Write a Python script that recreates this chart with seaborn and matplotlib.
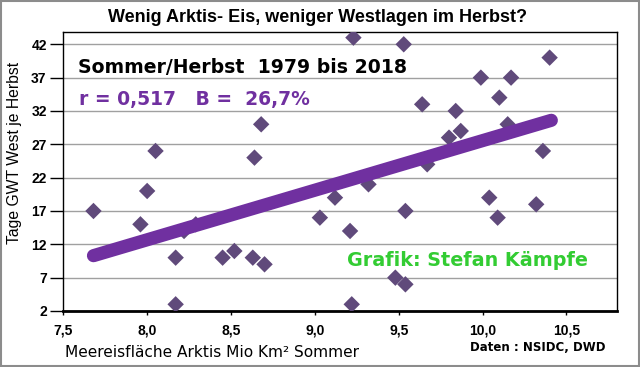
import matplotlib
matplotlib.use('Agg')
import matplotlib.pyplot as plt
import seaborn as sns
import pandas as pd
from matplotlib.patches import Rectangle

# Meereisfläche Sommer (Mio km²) und Tage GWT West je Herbst, 1979-2018
eis = [7.68, 8.00, 7.96, 8.17, 8.17, 8.22, 8.29, 8.45, 8.52, 8.63, 8.70,
       9.03, 9.12, 9.21, 9.22, 8.05, 8.68, 8.64, 9.23, 9.53, 10.40, 9.99,
       10.17, 10.10, 9.64, 9.84, 9.87, 9.80, 10.15, 10.36, 9.67, 9.32,
       10.04, 9.54, 10.32, 10.09, 9.48, 9.54]
west = [17, 20, 15, 10, 3, 14, 15, 10, 11, 10, 9,
        16, 19, 14, 3, 26, 30, 25, 43, 42, 40, 37,
        37, 34, 33, 32, 29, 28, 30, 26, 24, 21,
        19, 17, 18, 16, 7, 6]

trend_eis = [7.68, 10.41]
trend_west = [10.3, 30.6]

xticks = [7.5, 8.0, 8.5, 9.0, 9.5, 10.0, 10.5]
xtick_labels = ['7,5', '8,0', '8,5', '9,0', '9,5', '10,0', '10,5']
yticks = [2, 7, 12, 17, 22, 27, 32, 37, 42]

sns.set_theme(style='white')
plt.rcParams['font.family'] = ['Liberation Sans', 'DejaVu Sans']
plt.rcParams['text.color'] = 'black'

fig = plt.figure(figsize=(6.4, 3.67), dpi=100)
ax = fig.add_axes([0.0989, 0.1526, 0.8647, 0.7594])

df = pd.DataFrame({'eis': eis, 'west': west})
sns.scatterplot(data=df, x='eis', y='west', marker='D', s=70, color='#604A7B',
                edgecolor='none', ax=ax, zorder=3)
trend = pd.DataFrame({'eis': trend_eis, 'west': trend_west})
sns.lineplot(data=trend, x='eis', y='west', color='#7030A0', lw=9.5,
             solid_capstyle='round', ax=ax, zorder=4)

ax.set_xlim(7.5, 10.8)
ax.set_ylim(2, 43.8)
ax.set_xticks(xticks, xtick_labels)
ax.set_yticks(yticks)
ax.set_xlabel('')
ax.set_ylabel('')
ax.yaxis.grid(True, color='#A0A0A0', lw=1)
ax.set_axisbelow(True)
for side in ['top', 'right', 'left']:
    ax.spines[side].set_color('black')
    ax.spines[side].set_linewidth(1)
ax.spines['bottom'].set_color('black')
ax.spines['bottom'].set_linewidth(2)
ax.tick_params(axis='y', direction='out', length=9.5, width=1, color='black',
               labelcolor='black', pad=2.5, labelsize=10, left=True)
ax.tick_params(axis='x', direction='out', length=3, width=1, color='black',
               labelcolor='black', pad=6, labelsize=10, bottom=True)
for lbl in ax.get_xticklabels() + ax.get_yticklabels():
    lbl.set_fontweight('bold')

fig.text(317 / 640, 1 - 18 / 367, 'Wenig Arktis- Eis, weniger Westlagen im Herbst?',
         ha='center', va='center', fontsize=13, fontweight='bold')
fig.text(15 / 640, 1 - 153 / 367, 'Tage GWT West je Herbst', rotation=90,
         ha='center', va='center', fontsize=11.3)
fig.text(65 / 640, 1 - 352.7 / 367, 'Meereisfläche Arktis Mio Km² Sommer',
         ha='left', va='center', fontsize=11.1, family=['DejaVu Sans'])
fig.text(606 / 640, 1 - 347.7 / 367, 'Daten : NSIDC, DWD',
         ha='right', va='center', fontsize=8.5, fontweight='bold',
         family=['DejaVu Sans'])

fig.text(78 / 640, 1 - 67.3 / 367, 'Sommer/Herbst  1979 bis 2018',
         ha='left', va='center', fontsize=13.6, fontweight='bold',
         family=['DejaVu Sans'])
fig.text(79 / 640, 1 - 100 / 367, 'r = 0,517   B =  26,7%', color='#7030A0',
         ha='left', va='center', fontsize=13.5, fontweight='bold',
         family=['DejaVu Sans'])
fig.text(347 / 640, 1 - 260 / 367, 'Grafik: Stefan Kämpfe', color='#33CC33',
         ha='left', va='center', fontsize=13.8, fontweight='bold',
         family=['DejaVu Sans'])

fig.add_artist(Rectangle((0.001, 0.002), 0.997, 0.995, transform=fig.transFigure,
                         fill=False, edgecolor='#8C8C8C', lw=1.5))

fig.savefig('out.png', dpi=100)
